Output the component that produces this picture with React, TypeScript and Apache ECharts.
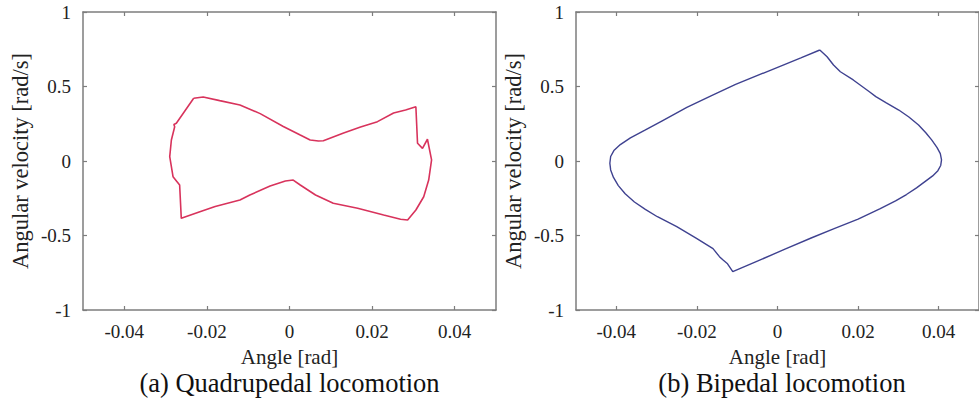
import React, { useEffect, useRef } from "react";
import * as echarts from "echarts";

// Phase portraits: [angle (rad), angular velocity (rad/s)]
const quadrupedalPath: [number, number][] = [
  [-0.0232, 0.421],
  [-0.0209, 0.43],
  [-0.0169, 0.405],
  [-0.012, 0.376],
  [-0.0071, 0.318],
  [-0.0015, 0.232],
  [0.0026, 0.174],
  [0.005, 0.141],
  [0.007, 0.134],
  [0.0082, 0.136],
  [0.0131, 0.188],
  [0.0172, 0.228],
  [0.0213, 0.264],
  [0.0252, 0.322],
  [0.0281, 0.342],
  [0.0306, 0.364],
  [0.031, 0.119],
  [0.0322, 0.085],
  [0.0334, 0.146],
  [0.0344, 0.007],
  [0.0337, -0.128],
  [0.0325, -0.24],
  [0.0306, -0.329],
  [0.0286, -0.396],
  [0.0269, -0.391],
  [0.0228, -0.362],
  [0.0165, -0.317],
  [0.0106, -0.284],
  [0.0063, -0.228],
  [0.0026, -0.161],
  [0.0009, -0.128],
  [-0.001, -0.134],
  [-0.0047, -0.168],
  [-0.0096, -0.228],
  [-0.012, -0.262],
  [-0.018, -0.305],
  [-0.0217, -0.34],
  [-0.0262, -0.385],
  [-0.0266, -0.161],
  [-0.0282, -0.105],
  [-0.029, 0.029],
  [-0.0286, 0.141],
  [-0.0278, 0.23],
  [-0.028, 0.245],
  [-0.0274, 0.253],
  [-0.0232, 0.421],
];

const bipedalPath: [number, number][] = [
  [0.0105, 0.745],
  [0.0123, 0.7],
  [0.0139, 0.644],
  [0.0156, 0.599],
  [0.0188, 0.544],
  [0.0228, 0.465],
  [0.0244, 0.432],
  [0.027, 0.39],
  [0.0301, 0.342],
  [0.0326, 0.295],
  [0.035, 0.242],
  [0.0368, 0.19],
  [0.0383, 0.14],
  [0.0396, 0.09],
  [0.0404, 0.05],
  [0.0407, 0.007],
  [0.0405, -0.03],
  [0.0398, -0.065],
  [0.0385, -0.1],
  [0.0365, -0.14],
  [0.0345, -0.18],
  [0.032, -0.225],
  [0.0293, -0.268],
  [0.0255, -0.32],
  [0.02, -0.39],
  [0.0139, -0.455],
  [0.0085, -0.515],
  [0.002, -0.59],
  [-0.005, -0.672],
  [-0.0111, -0.743],
  [-0.0124, -0.69],
  [-0.0135, -0.665],
  [-0.0144, -0.642],
  [-0.016, -0.588],
  [-0.0201, -0.519],
  [-0.025, -0.441],
  [-0.0298, -0.374],
  [-0.0328, -0.325],
  [-0.0355, -0.275],
  [-0.0378, -0.22],
  [-0.0395, -0.165],
  [-0.0407, -0.11],
  [-0.0414, -0.06],
  [-0.0416, -0.015],
  [-0.0414, 0.03],
  [-0.0406, 0.07],
  [-0.039, 0.11],
  [-0.0365, 0.155],
  [-0.033, 0.205],
  [-0.0286, 0.27],
  [-0.0225, 0.36],
  [-0.0165, 0.437],
  [-0.0104, 0.514],
  [-0.0024, 0.602],
  [0.0058, 0.692],
  [0.0105, 0.745],
];

const xTicks = [-0.04, -0.02, 0, 0.02, 0.04];
const yTicks = [-1, -0.5, 0, 0.5, 1];
const captions = ["(a) Quadrupedal locomotion", "(b) Bipedal locomotion"];
const xName = "Angle [rad]";
const yName = "Angular velocity [rad/s]";

const FONT = "'Liberation Serif', 'Times New Roman', serif";
const AXIS_COLOR = "#7d7d7d";
const TEXT_COLOR = "#222";

function fmt(v: number): string {
  if (Math.abs(v) < 1e-9) return "0";
  return String(+v.toFixed(2));
}

export default function App() {
  const ref = useRef<HTMLDivElement>(null);
  useEffect(() => {
    if (!ref.current) return;
    const chart = echarts.init(ref.current, undefined, { renderer: "svg" });

    const grids = [
      { left: 83, top: 12, width: 413, height: 298 },
      { left: 576, top: 12, width: 412, height: 298 },
    ];

    const axisLine = { show: true, onZero: false, lineStyle: { color: AXIS_COLOR, width: 1.5 } };
    const tickStyle = { color: AXIS_COLOR, width: 1.2 };

    const xAxes: any[] = [];
    const yAxes: any[] = [];
    grids.forEach((_, gi) => {
      xAxes.push({
        type: "value",
        gridIndex: gi,
        position: "bottom",
        min: -0.05,
        max: 0.05,
        interval: 0.01,
        name: xName,
        nameLocation: "middle",
        nameGap: 36,
        nameTextStyle: { fontFamily: FONT, fontSize: 21, color: TEXT_COLOR },
        axisLine,
        axisTick: { show: true, inside: true, length: 4, lineStyle: tickStyle, customValues: xTicks },
        axisLabel: {
          show: true,
          margin: 12,
          fontFamily: FONT,
          fontSize: 19,
          color: TEXT_COLOR,
          customValues: xTicks,
          formatter: (v: number) => fmt(v),
        },
        splitLine: { show: false },
      });
      xAxes.push({
        type: "value",
        gridIndex: gi,
        position: "top",
        min: -0.05,
        max: 0.05,
        interval: 0.01,
        axisLine,
        axisTick: { show: true, inside: true, length: 4, lineStyle: tickStyle, customValues: xTicks },
        axisLabel: { show: false },
        splitLine: { show: false },
      });
      yAxes.push({
        type: "value",
        gridIndex: gi,
        position: "left",
        min: -1,
        max: 1,
        interval: 0.5,
        name: yName,
        nameLocation: "middle",
        nameGap: 51,
        nameTextStyle: { fontFamily: FONT, fontSize: 22.5, color: TEXT_COLOR },
        axisLine,
        axisTick: { show: true, inside: true, length: 4, lineStyle: tickStyle, customValues: yTicks },
        axisLabel: {
          show: true,
          margin: 12,
          fontFamily: FONT,
          fontSize: 19,
          color: TEXT_COLOR,
          customValues: yTicks,
          formatter: (v: number) => fmt(v),
        },
        splitLine: { show: false },
      });
      yAxes.push({
        type: "value",
        gridIndex: gi,
        position: "right",
        min: -1,
        max: 1,
        interval: 0.5,
        axisLine,
        axisTick: { show: true, inside: true, length: 4, lineStyle: tickStyle, customValues: yTicks },
        axisLabel: { show: false },
        splitLine: { show: false },
      });
    });

    const centers = grids.map((g) => g.left + g.width / 2);

    chart.setOption({
      animation: false,
      backgroundColor: "#ffffff",
      grid: grids,
      xAxis: xAxes,
      yAxis: yAxes,
      series: [
        {
          type: "line",
          xAxisIndex: 0,
          yAxisIndex: 0,
          data: quadrupedalPath,
          showSymbol: false,
          symbol: "none",
          lineStyle: { color: "#d8335c", width: 1.6 },
        },
        {
          type: "line",
          xAxisIndex: 2,
          yAxisIndex: 2,
          data: bipedalPath,
          showSymbol: false,
          symbol: "none",
          lineStyle: { color: "#3f4290", width: 1.4 },
        },
      ],
      graphic: captions.map((c, i) => ({
        type: "text",
        x: centers[i],
        y: 383,
        style: {
          text: c,
          font: `26.5px ${FONT}`,
          fill: "#111",
          align: "center",
          verticalAlign: "middle",
        },
      })),
    });
    return () => chart.dispose();
  }, []);

  return (
    <div
      ref={ref}
      style={{ position: "fixed", left: 0, top: 0, width: 979, height: 405, background: "#fff" }}
    />
  );
}
